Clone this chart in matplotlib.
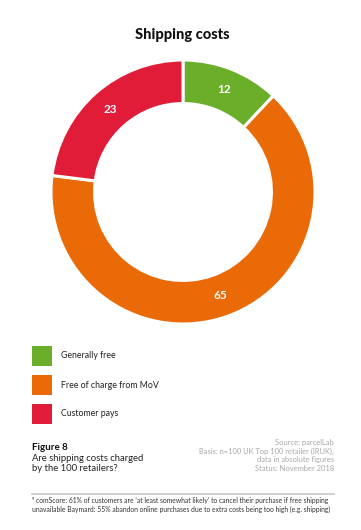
import matplotlib
matplotlib.use("Agg")
import matplotlib.pyplot as plt
from matplotlib.patches import Rectangle
import numpy as np

plt.rcParams['font.family'] = ['Lato', 'DejaVu Sans']

categories = ["Generally free", "Free of charge from MoV", "Customer pays"]
values = [12, 65, 23]
colors = ["#6AAE2A", "#EA6A07", "#E01C38"]

title = "Shipping costs"
fig_label = "Figure 8"
fig_caption = "Are shipping costs charged\nby the 100 retailers?"
source_text = "Source: parcelLab\nBasis: n=100 UK Top 100 retailer (IRUK),\ndata in absolute figures\nStatus: November 2018"
footnote = ("\u2079 comScore: 61% of customers are \u2018at least somewhat likely\u2019 to cancel their purchase if free shipping\n"
            "unavailable Baymard: 55% abandon online purchases due to extra costs being too high (e.g. shipping)")

W, H = 361, 530
fig = plt.figure(figsize=(W / 100, H / 100), dpi=100)

def fx(px):
    return px / W

def fy(py):
    return 1 - py / H

# Donut
cx, cy, R = 183, 192, 132
ax = fig.add_axes([fx(cx - R), fy(cy + R), 2 * R / W, 2 * R / H])
wedges, _ = ax.pie(values, colors=colors, startangle=90, counterclock=False,
                   radius=1.0, wedgeprops=dict(width=0.33, edgecolor="white", linewidth=2.2))
ax.set_xlim(-1, 1)
ax.set_ylim(-1, 1)
ax.set_aspect("equal")
ax.axis("off")

total = sum(values)
start = 90.0
for v in values:
    theta = np.deg2rad(start - 360 * v / total / 2)
    r = 1 - 0.33 / 2
    ax.text(r * np.cos(theta), r * np.sin(theta), str(v), ha="center", va="center",
            color="white", fontsize=8.5, fontweight="bold")
    start -= 360 * v / total

# Title
fig.text(fx(182), fy(35), title, ha="center", va="center", fontsize=10.5,
         fontweight="black", color="#111111")

# Legend
ys = [356, 385, 414]
for c, lab, y in zip(colors, categories, ys):
    fig.patches.append(Rectangle((fx(32), fy(y + 10)), 20 / W, 20 / H,
                                 transform=fig.transFigure, facecolor=c, edgecolor="none"))
    fig.text(fx(61), fy(y), lab, ha="left", va="center", fontsize=6.3, color="#222222")

# Footer
fig.text(fx(32), fy(448), fig_label, ha="left", va="center", fontsize=7,
         fontweight="bold", color="#111111")
fig.text(fx(32), fy(454), fig_caption, ha="left", va="top", fontsize=6.8,
         color="#222222", linespacing=1.15)
fig.text(fx(334), fy(439), source_text, ha="right", va="top", fontsize=5.4,
         color="#a8a8a8", linespacing=1.25)

fig.add_artist(plt.Line2D([fx(32), fx(334)], [fy(494), fy(494)], color="#cccccc",
                          linewidth=1.3, transform=fig.transFigure))
fig.text(fx(32), fy(497), footnote, ha="left", va="top", fontsize=4.85,
         color="#333333", linespacing=1.3)

fig.savefig("out.png", dpi=100)
